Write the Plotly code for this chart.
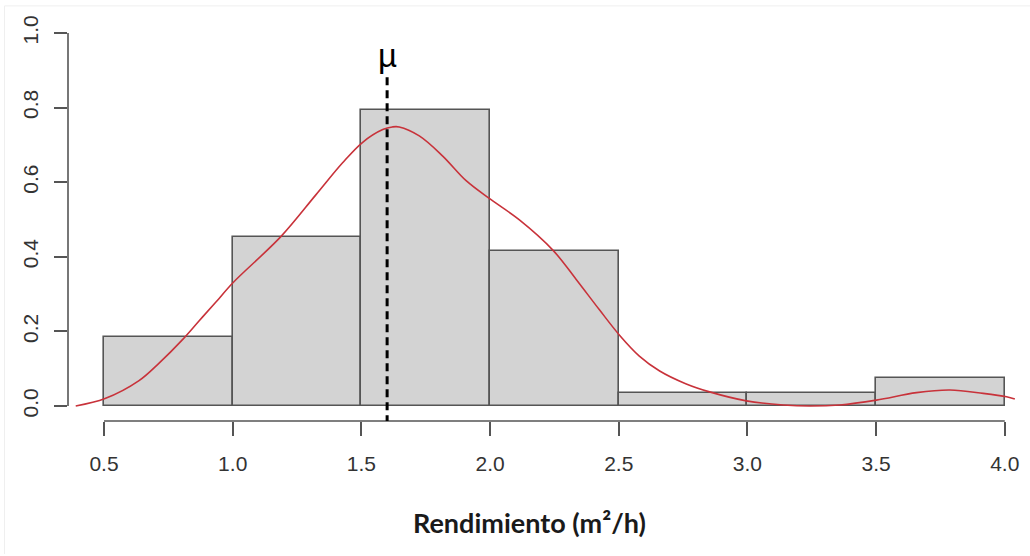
import plotly.graph_objects as go

# Histogram of yield (density scale), bins of width 0.5
bin_left = [0.5, 1.0, 1.5, 2.0, 2.5, 3.0, 3.5]
bin_width = 0.5
density = [0.185, 0.453, 0.794, 0.415, 0.035, 0.035, 0.074]

# Kernel density estimate
kde_x = [0.39, 0.504, 0.636, 0.714, 0.805, 0.869, 0.934, 1.0, 1.187, 1.323,
         1.427, 1.505, 1.583, 1.62, 1.647, 1.725, 1.816, 1.907, 2.004, 2.114,
         2.244, 2.334, 2.425, 2.503, 2.58, 2.659, 2.76, 2.853, 2.996, 3.139,
         3.242, 3.359, 3.501, 3.657, 3.787, 3.916, 4.007, 4.039]
kde_y = [0.0, 0.02, 0.068, 0.115, 0.178, 0.228, 0.278, 0.33, 0.454, 0.566,
         0.652, 0.707, 0.741, 0.748, 0.748, 0.724, 0.67, 0.604, 0.553, 0.499,
         0.418, 0.34, 0.258, 0.19, 0.134, 0.094, 0.06, 0.038, 0.014, 0.003,
         0.0, 0.003, 0.016, 0.036, 0.043, 0.034, 0.025, 0.019]

mean_value = 1.6

x_ticks = [0.5, 1.0, 1.5, 2.0, 2.5, 3.0, 3.5, 4.0]
x_tick_text = ["0.5", "1.0", "1.5", "2.0", "2.5", "3.0", "3.5", "4.0"]
y_ticks = [0.0, 0.2, 0.4, 0.6, 0.8, 1.0]
y_tick_text = ["0.0", "0.2", "0.4", "0.6", "0.8", "1.0"]

axis_color = "#555555"
label_font = dict(family="Liberation Sans, Arial, sans-serif", size=21, color="#333333")

fig = go.Figure()

fig.add_trace(go.Bar(
    x=[b + bin_width / 2 for b in bin_left],
    y=density,
    width=bin_width,
    marker=dict(color="#d3d3d3", line=dict(color=axis_color, width=1.6)),
    hoverinfo="skip",
))

fig.add_trace(go.Scatter(
    x=kde_x, y=kde_y,
    mode="lines",
    line=dict(color="#c8323a", width=1.6, shape="spline", smoothing=1.0),
    hoverinfo="skip",
))

shapes = [
    # x axis line spanning the tick range
    dict(type="line", xref="x", yref="paper", x0=x_ticks[0], x1=x_ticks[-1], y0=0, y1=0,
         line=dict(color=axis_color, width=1.6)),
    # y axis line spanning the tick range
    dict(type="line", xref="paper", yref="y", x0=0, x1=0, y0=y_ticks[0], y1=y_ticks[-1],
         line=dict(color=axis_color, width=1.6)),
    # mean marker
    dict(type="line", xref="x", yref="y", x0=mean_value, x1=mean_value, y0=-0.046, y1=0.89,
         line=dict(color="black", width=3, dash="8px,5px")),
    # faint outer frame
    dict(type="line", xref="paper", yref="paper", x0=-0.066, x1=-0.066, y0=-0.33, y1=1.03,
         line=dict(color="#efefef", width=1)),
    dict(type="line", xref="paper", yref="paper", x0=-0.066, x1=1.0, y0=1.03, y1=1.03,
         line=dict(color="#efefef", width=1)),
]

annotations = [
    dict(x=mean_value, y=0.885, xref="x", yref="y", text="µ", showarrow=False,
         xanchor="center", yanchor="bottom",
         font=dict(family="Liberation Sans, Arial, sans-serif", size=33, color="black")),
    dict(x=0.48, y=-0.251, xref="paper", yref="paper", text="<b>Rendimiento (m²/h)</b>",
         showarrow=False, xanchor="center", yanchor="middle",
         font=dict(family="Lato, sans-serif", size=27, color="#1a1a1a")),
]

fig.update_layout(
    width=1030, height=556,
    margin=dict(l=68, r=0, t=18, b=135),
    paper_bgcolor="white", plot_bgcolor="white",
    showlegend=False, bargap=0,
    shapes=shapes, annotations=annotations,
    xaxis=dict(range=[0.36, 4.098], showgrid=False, zeroline=False, showline=False,
               ticks="outside", ticklen=14, tickwidth=1.6, tickcolor=axis_color,
               tickvals=x_ticks, ticktext=x_tick_text, tickfont=label_font,
               ticklabelstandoff=10),
    yaxis=dict(range=[-0.04, 1.04], showgrid=False, zeroline=False, showline=False,
               ticks="outside", ticklen=13, tickwidth=1.6, tickcolor=axis_color,
               tickvals=y_ticks, ticktext=y_tick_text, tickfont=label_font,
               tickangle=-90, ticklabelstandoff=8),
)

fig.write_html("out.html")
